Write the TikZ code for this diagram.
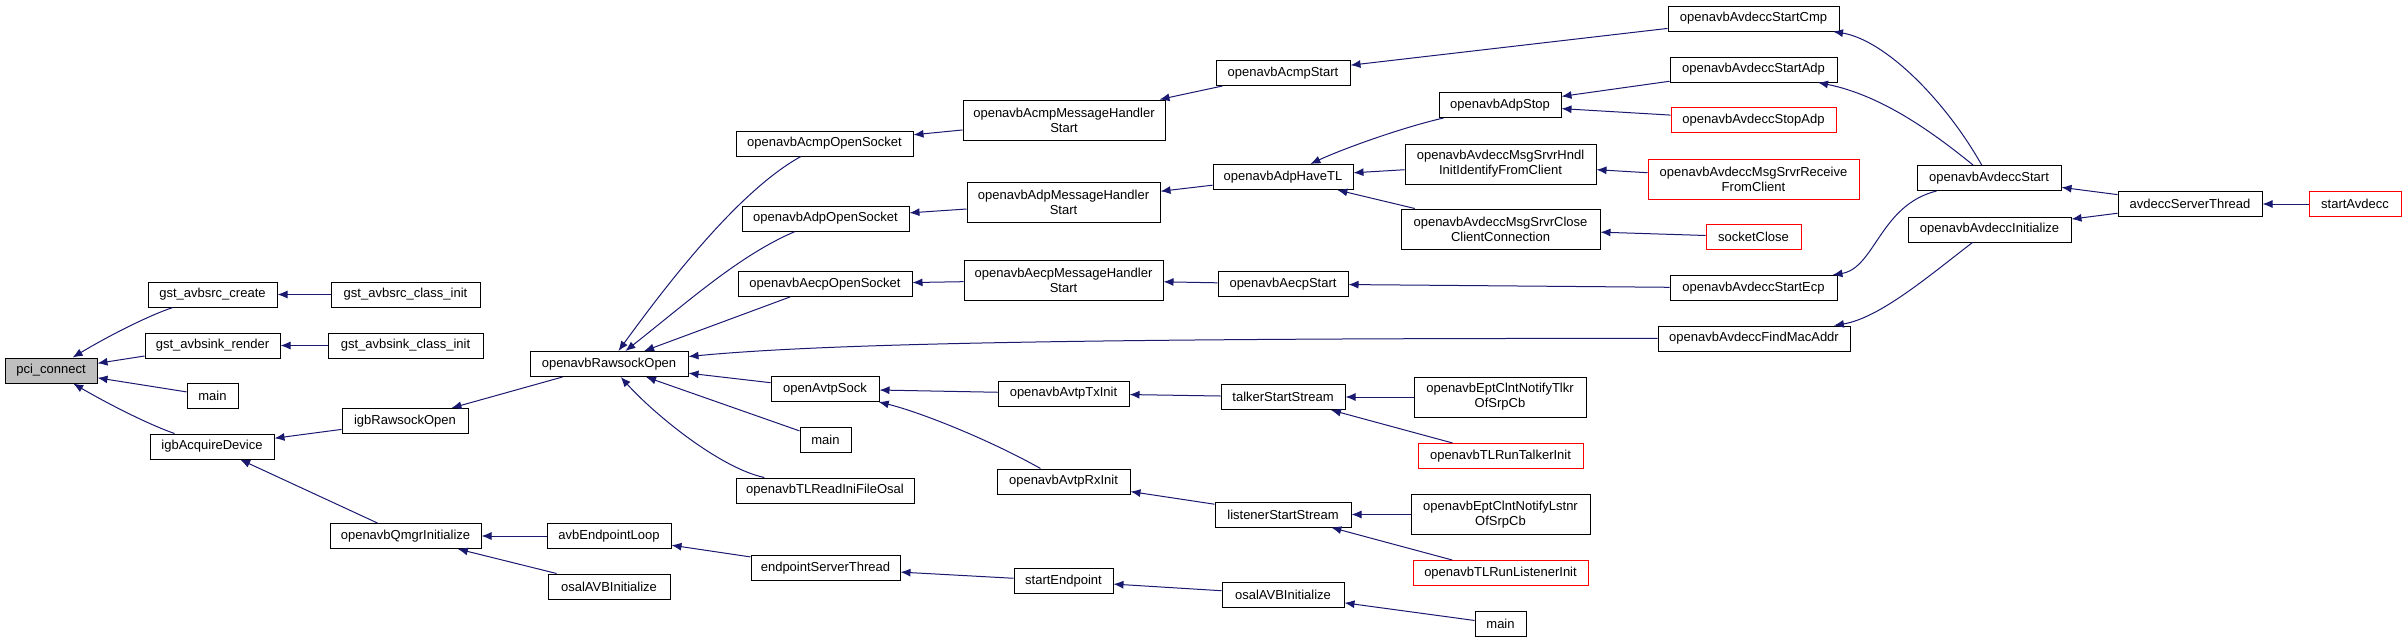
\documentclass[tikz,border=0pt]{standalone}
\usepackage{fontspec}
\setmainfont{Liberation Sans}
\usetikzlibrary{arrows.meta}
\definecolor{edgeblue}{HTML}{191970}
\definecolor{curgray}{HTML}{BFBFBF}

\begin{document}
\begin{tikzpicture}[
  x=1pt, y=-1pt,
  font=\fontsize{13}{15}\selectfont,
  fn/.style={draw=black, line width=1pt, fill=white, align=center, minimum height=25pt, inner sep=0pt},
  wd/.style={minimum width=#1pt},
  tall/.style={minimum height=40pt},
  hot/.style={draw=red},
  cur/.style={fill=curgray},
  call/.style={draw=edgeblue, line width=1pt, -{Latex[length=10pt,width=8pt]}}
]
\useasboundingbox (0,0) rectangle (2407,643);

\node[fn, cur, wd=92] (pci) at (51,370.5) {pci\_connect};
\node[fn, wd=129] (gstsrc) at (212.5,294.5) {gst\_avbsrc\_create};
\node[fn, wd=135] (gstsink) at (212.5,345.5) {gst\_avbsink\_render};
\node[fn, wd=51] (mainA) at (212.5,396) {main};
\node[fn, wd=124] (igbacq) at (212,446.5) {igbAcquireDevice};
\node[fn, wd=149] (gstsrcinit) at (405.5,294.5) {gst\_avbsrc\_class\_init};
\node[fn, wd=155] (gstsinkinit) at (405.5,345.5) {gst\_avbsink\_class\_init};
\node[fn, wd=126] (igbraw) at (405,421) {igbRawsockOpen};
\node[fn, wd=151] (qmgr) at (405.5,536) {openavbQmgrInitialize};
\node[fn, wd=158] (raw) at (609,364) {openavbRawsockOpen};
\node[fn, wd=124] (avbloop) at (609,536) {avbEndpointLoop};
\node[fn, wd=122] (osalA) at (609,586.5) {osalAVBInitialize};
\node[fn, wd=177] (acmpsock) at (824.5,143.5) {openavbAcmpOpenSocket};
\node[fn, wd=167] (adpsock) at (825.5,218.5) {openavbAdpOpenSocket};
\node[fn, wd=174] (aecpsock) at (825,284) {openavbAecpOpenSocket};
\node[fn, wd=108] (avtpsock) at (825,389) {openAvtpSock};
\node[fn, wd=51] (mainB) at (825.5,440) {main};
\node[fn, wd=178] (readini) at (825,490.5) {openavbTLReadIniFileOsal};
\node[fn, wd=149] (eptthread) at (825.5,568) {endpointServerThread};
\node[fn, tall, wd=202] (acmpmhs) at (1064,120) {openavbAcmpMessageHandler\\Start};
\node[fn, tall, wd=193] (adpmhs) at (1063.5,202.5) {openavbAdpMessageHandler\\Start};
\node[fn, tall, wd=199] (aecpmhs) at (1063.5,280) {openavbAecpMessageHandler\\Start};
\node[fn, wd=131] (txinit) at (1063.5,393.5) {openavbAvtpTxInit};
\node[fn, wd=133] (rxinit) at (1063.5,481.5) {openavbAvtpRxInit};
\node[fn, wd=99] (startept) at (1063.5,581) {startEndpoint};
\node[fn, wd=134] (acmpstart) at (1283,73) {openavbAcmpStart};
\node[fn, wd=140] (adphavetl) at (1283,177) {openavbAdpHaveTL};
\node[fn, wd=130] (aecpstart) at (1283,284) {openavbAecpStart};
\node[fn, wd=124] (talker) at (1283,397) {talkerStartStream};
\node[fn, wd=136] (listener) at (1283,514.5) {listenerStartStream};
\node[fn, wd=122] (osalB) at (1283,594.5) {osalAVBInitialize};
\node[fn, wd=122] (adpstop) at (1500,105) {openavbAdpStop};
\node[fn, tall, wd=191] (hndlinit) at (1500.5,164) {openavbAvdeccMsgSrvrHndl\\InitIdentifyFromClient};
\node[fn, tall, wd=199] (closeclient) at (1500.5,229) {openavbAvdeccMsgSrvrClose\\ClientConnection};
\node[fn, tall, wd=172] (notifytlkr) at (1500,397) {openavbEptClntNotifyTlkr\\OfSrpCb};
\node[fn, hot, wd=165] (runtalker) at (1500.5,456) {openavbTLRunTalkerInit};
\node[fn, tall, wd=179] (notifylstnr) at (1500.5,514.5) {openavbEptClntNotifyLstnr\\OfSrpCb};
\node[fn, hot, wd=175] (runlistener) at (1500.5,573) {openavbTLRunListenerInit};
\node[fn, wd=51] (mainC) at (1500.5,624) {main};
\node[fn, wd=171] (startcmp) at (1753.5,18.5) {openavbAvdeccStartCmp};
\node[fn, wd=167] (startadp) at (1753.5,69.5) {openavbAvdeccStartAdp};
\node[fn, hot, wd=165] (stopadp) at (1753.5,120) {openavbAvdeccStopAdp};
\node[fn, hot, tall, wd=211] (recvclient) at (1753.5,179) {openavbAvdeccMsgSrvrReceive\\FromClient};
\node[fn, hot, wd=95] (sockclose) at (1753.5,237) {socketClose};
\node[fn, wd=167] (startecp) at (1753.5,288) {openavbAvdeccStartEcp};
\node[fn, wd=192] (findmac) at (1754,338.5) {openavbAvdeccFindMacAddr};
\node[fn, wd=144] (avdeccstart) at (1989,178) {openavbAvdeccStart};
\node[fn, wd=163] (avdeccinit) at (1989.5,229.5) {openavbAvdeccInitialize};
\node[fn, wd=144] (srvthread) at (2190,204) {avdeccServerThread};
\node[fn, hot, wd=92] (startavdecc) at (2355,204) {startAvdecc};

\draw[call] (gstsrc) .. controls (150,315) and (110,335) .. (pci);
\draw[call] (gstsink) -- (pci);
\draw[call] (mainA) -- (pci);
\draw[call] (igbacq) .. controls (150,425) and (110,405) .. (pci);
\draw[call] (gstsrcinit) -- (gstsrc);
\draw[call] (gstsinkinit) -- (gstsink);
\draw[call] (igbraw) -- (igbacq);
\draw[call] (qmgr) -- (igbacq);
\draw[call] (raw) -- (igbraw);
\draw[call] (avbloop) -- (qmgr);
\draw[call] (osalA) -- (qmgr);
\draw[call] (eptthread) -- (avbloop);
\draw[call] (startept) -- (eptthread);
\draw[call] (osalB) -- (startept);
\draw[call] (mainC) -- (osalB);
\draw[call] (acmpsock) .. controls (740,190) and (670,280) .. (raw);
\draw[call] (adpsock) .. controls (740,255) and (690,300) .. (raw);
\draw[call] (aecpsock) -- (raw);
\draw[call] (findmac) .. controls (1000,338) and (800,346) .. (raw);
\draw[call] (avtpsock) -- (raw);
\draw[call] (mainB) -- (raw);
\draw[call] (readini) .. controls (720,468) and (655,415) .. (raw);
\draw[call] (acmpmhs) -- (acmpsock);
\draw[call] (adpmhs) -- (adpsock);
\draw[call] (aecpmhs) -- (aecpsock);
\draw[call] (acmpstart) -- (acmpmhs);
\draw[call] (adphavetl) -- (adpmhs);
\draw[call] (aecpstart) -- (aecpmhs);
\draw[call] (startcmp) -- (acmpstart);
\draw[call] (adpstop) .. controls (1400,128) and (1340,150) .. (adphavetl);
\draw[call] (hndlinit) -- (adphavetl);
\draw[call] (closeclient) -- (adphavetl);
\draw[call] (startadp) -- (adpstop);
\draw[call] (stopadp) -- (adpstop);
\draw[call] (recvclient) -- (hndlinit);
\draw[call] (sockclose) -- (closeclient);
\draw[call] (startecp) -- (aecpstart);
\draw[call] (avdeccstart) .. controls (1945,100) and (1885,40) .. (startcmp);
\draw[call] (avdeccstart) .. controls (1930,130) and (1880,95) .. (startadp);
\draw[call] (avdeccstart) .. controls (1880,205) and (1875,268) .. (startecp);
\draw[call] (avdeccinit) .. controls (1930,275) and (1880,318) .. (findmac);
\draw[call] (srvthread) -- (avdeccstart);
\draw[call] (srvthread) -- (avdeccinit);
\draw[call] (startavdecc) -- (srvthread);
\draw[call] (txinit) -- (avtpsock);
\draw[call] (rxinit) .. controls (990,440) and (920,412) .. (avtpsock);
\draw[call] (talker) -- (txinit);
\draw[call] (listener) -- (rxinit);
\draw[call] (notifytlkr) -- (talker);
\draw[call] (runtalker) -- (talker);
\draw[call] (notifylstnr) -- (listener);
\draw[call] (runlistener) -- (listener);
\end{tikzpicture}
\end{document}
